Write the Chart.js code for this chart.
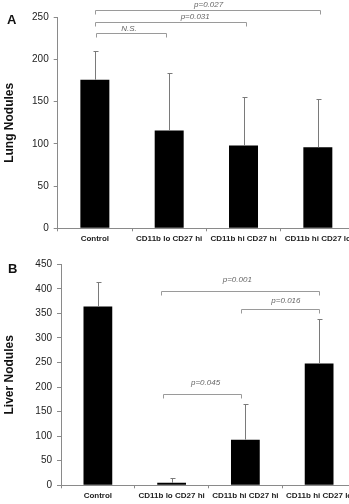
<!DOCTYPE html>
<html lang="en">
<head>
<meta charset="UTF-8">
<title>Lung and Liver Nodules</title>
<script src="https://cdn.jsdelivr.net/npm/chart.js"></script>
<style>
  html, body { margin: 0; padding: 0; background: #fff; overflow: hidden; width: 349px; height: 504px; }
  canvas { position: absolute; left: 0; }
  .tag { position: absolute; font: bold 13px Arial, "Liberation Sans", sans-serif; line-height: 13px; color: #111; z-index: 2; }
</style>
</head>
<body>
<canvas id="lung" style="top:0" width="355" height="250"></canvas>
<canvas id="liver" style="top:250px" width="356" height="254"></canvas>
<div class="tag" style="left:7px;top:13px">A</div>
<div class="tag" style="left:8px;top:262px">B</div>

<script>
// groups on the x axis
const groups = ['Control', 'CD11b lo CD27 hi', 'CD11b hi CD27 hi', 'CD11b hi CD27 lo'];

// panel A: lung nodules (mean and upper error)
const lungMeans = [176, 116, 98, 96];
const lungErrors = [34, 68, 58, 57];
const lungTicks = [0, 50, 100, 150, 200, 250];

// panel B: liver nodules
const liverMeans = [364, 5, 93, 248];
const liverErrors = [49, 10, 72, 91];
const liverTicks = [0, 50, 100, 150, 200, 250, 300, 350, 400, 450];

// significance brackets (x in group index, heights in axis units)
const lungBrackets = [
  { from: 0.02, to: 0.96, level: 231, label: 'N.S.', labelAt: 0.46, labelLevel: 236 },
  { from: 0, to: 2.03, level: 244, label: 'p=0.031', labelAt: 1.35, labelLevel: 251 },
  { from: 0, to: 3.03, level: 259, label: 'p=0.027', labelAt: 1.53, labelLevel: 265 }
];
const liverBrackets = [
  { from: 0.86, to: 3, level: 395, label: 'p=0.001', labelAt: 1.89, labelLevel: 418 },
  { from: 1.94, to: 3, level: 359, label: 'p=0.016', labelAt: 2.55, labelLevel: 376 },
  { from: 0.88, to: 1.94, level: 186, label: 'p=0.045', labelAt: 1.46, labelLevel: 208 }
];

const FONT = 'Arial, "Liberation Sans", sans-serif';
const AXIS = '#8a8a8a';

// draws error bars and brackets on top of the bars
function overlay(means, errors, brackets) {
  return {
    id: 'overlay',
    afterDatasetsDraw(chart) {
      const { ctx, scales: { x, y } } = chart;
      ctx.save();
      ctx.lineWidth = 1;
      ctx.strokeStyle = '#7a7a7a';
      errors.forEach((e, i) => {
        const px = Math.round(x.getPixelForValue(i)) + 0.5;
        const y0 = y.getPixelForValue(means[i]);
        const y1 = Math.round(y.getPixelForValue(means[i] + e)) + 0.5;
        ctx.beginPath();
        ctx.moveTo(px, y0);
        ctx.lineTo(px, y1);
        ctx.moveTo(px - 2, y1);
        ctx.lineTo(px + 3, y1);
        ctx.stroke();
      });

      ctx.strokeStyle = '#9a9a9a';
      ctx.fillStyle = '#666';
      ctx.font = 'italic 8px ' + FONT;
      ctx.textAlign = 'center';
      ctx.textBaseline = 'middle';
      brackets.forEach(b => {
        const x0 = Math.round(x.getPixelForValue(b.from)) + 0.5;
        const x1 = Math.round(x.getPixelForValue(b.to)) + 0.5;
        const yy = Math.round(y.getPixelForValue(b.level)) + 0.5;
        ctx.beginPath();
        ctx.moveTo(x0, yy + 4);
        ctx.lineTo(x0, yy);
        ctx.lineTo(x1, yy);
        ctx.lineTo(x1, yy + 4);
        ctx.stroke();
        ctx.fillText(b.label, x.getPixelForValue(b.labelAt), y.getPixelForValue(b.labelLevel));
      });
      ctx.restore();
    }
  };
}

function barChart(id, means, errors, ticks, title, brackets, yWidth, xHeight, topPad) {
  return new Chart(document.getElementById(id), {
    type: 'bar',
    data: {
      labels: groups,
      datasets: [{
        data: means,
        backgroundColor: '#000',
        borderWidth: 0,
        barPercentage: 0.39,
        categoryPercentage: 1
      }]
    },
    options: {
      responsive: false,
      animation: false,
      layout: { padding: { top: topPad, right: 0, bottom: 0, left: 0 } },
      plugins: { legend: { display: false }, tooltip: { enabled: false } },
      scales: {
        x: {
          grid: { drawOnChartArea: false, drawTicks: true, tickLength: 3, color: AXIS, offset: true },
          border: { color: AXIS },
          ticks: {
            autoSkip: false, maxRotation: 0, minRotation: 0, padding: 3,
            color: '#222', font: { family: FONT, size: 8, weight: 'bold' }
          },
          afterFit: s => { s.height = xHeight; }
        },
        y: {
          min: ticks[0],
          max: ticks[ticks.length - 1],
          afterBuildTicks: s => { s.ticks = ticks.map(v => ({ value: v })); },
          grid: { drawOnChartArea: false, drawTicks: true, tickLength: 4, color: AXIS },
          border: { color: AXIS },
          ticks: { padding: 5, color: '#222', font: { family: FONT, size: 10 } },
          title: {
            display: true, text: title, color: '#111',
            padding: { top: 2, bottom: 0 },
            font: { family: FONT, size: 12, weight: 'bold' }
          },
          afterFit: s => { s.width = yWidth; }
        }
      }
    },
    plugins: [overlay(means, errors, brackets)]
  });
}

barChart('lung', lungMeans, lungErrors, lungTicks, 'Lung Nodules', lungBrackets, 57.7, 21.7, 17.3);
barChart('liver', liverMeans, liverErrors, liverTicks, 'Liver Nodules', liverBrackets, 61, 18.7, 14.3);
</script>
</body>
</html>
